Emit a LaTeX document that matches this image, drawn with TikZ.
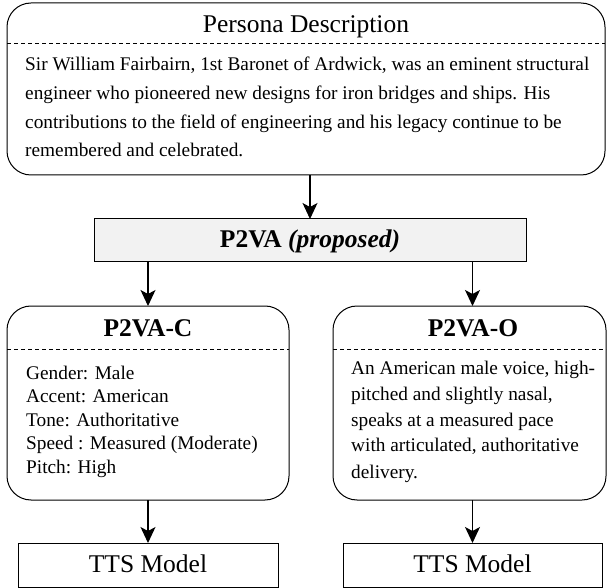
\documentclass[tikz,border=0pt]{standalone}
\usepackage{fontspec}
\setmainfont{Liberation Serif}
\usetikzlibrary{arrows.meta}
\definecolor{boxfill}{HTML}{F2F2F2}
\begin{document}
\begin{tikzpicture}[x=1pt,y=-1pt,
  rbox/.style={draw=black, line width=1pt, rounded corners=24pt, inner sep=0, outer sep=0},
  pbox/.style={draw=black, line width=1pt, inner sep=0, outer sep=0},
  arr/.style={line width=1.1pt, -{Stealth[length=16pt,width=15pt,inset=4pt]}},
  sepline/.style={line width=0.8pt, dash pattern=on 4pt off 3pt},
  body/.style={font=\fontsize{19.3}{23}\selectfont, anchor=base west, inner sep=0},
  head/.style={font=\fontsize{25.5}{30}\selectfont, anchor=base, inner sep=0},
]
\useasboundingbox (0,0) rectangle (608,588);

% boxes
\node[rbox, minimum width=598pt, minimum height=172pt] (persona) at (306,89) {};
\node[pbox, fill=boxfill, minimum width=432pt, minimum height=43pt] (p2va) at (310,240.5) {};
\node[rbox, minimum width=282pt, minimum height=194pt] (cbox) at (148,403) {};
\node[rbox, minimum width=273pt, minimum height=194pt] (obox) at (469.5,403) {};
\node[pbox, minimum width=260pt, minimum height=44pt] (ctts) at (148,565) {};
\node[pbox, minimum width=259pt, minimum height=44pt] (otts) at (472.5,565) {};

% separators
\coordinate (s1) at (0,43);
\coordinate (s2) at (0,349);
\draw[sepline] (persona.west |- s1) -- (persona.east |- s1);
\draw[sepline] (cbox.west |- s2) -- (cbox.east |- s2);
\draw[sepline] (obox.west |- s2) -- (obox.east |- s2);

% persona text
\node[head] (ptitle) at (306,33) {Persona Description};
\node[body] (pl1) at (25,71) {Sir William Fairbairn, 1st Baronet of Ardwick, was an eminent structural};
\node[body] (pl2) at (25,99.7) {engineer who pioneered new designs for iron bridges and ships. His};
\node[body] (pl3) at (25,128.3) {contributions to the field of engineering and his legacy continue to be};
\node[body] (pl4) at (25,157) {remembered and celebrated.};

% P2VA
\node[head, font=\fontsize{25.5}{30}\selectfont\bfseries] (p2vat) at (310,248) {P2VA \textit{(proposed)}};

% C box
\node[head, font=\fontsize{25.5}{30}\selectfont\bfseries] (ctitle) at (148,336) {P2VA-C};
\node[body] (c1) at (26,379) {Gender: Male};
\node[body] (c2) at (26,402.5) {Accent: American};
\node[body] (c3) at (26,426) {Tone: Authoritative};
\node[body] (c4) at (26,449.5) {Speed : Measured (Moderate)};
\node[body] (c5) at (26,473) {Pitch: High};

% O box
\node[head, font=\fontsize{25.5}{30}\selectfont\bfseries] (otitle) at (473,336) {P2VA-O};
\node[body] (o1) at (351,374) {An American male voice, high-};
\node[body] (o2) at (351,400) {pitched and slightly nasal,};
\node[body] (o3) at (351,426) {speaks at a measured pace};
\node[body] (o4) at (351,451) {with articulated, authoritative};
\node[body] (o5) at (351,478) {delivery.};

% TTS
\node[head] (ctt) at (148,572) {TTS Model};
\node[head] (ott) at (472.5,572) {TTS Model};

% arrows
\draw[arr] (p2va.north |- persona.south) -- (p2va.north);
\draw[arr] (p2va.south -| cbox.north) -- (cbox.north);
\draw[arr] (p2va.south -| otts.north) -- (obox.north -| otts.north);
\draw[arr] (cbox.south) -- (ctts.north);
\draw[arr] (obox.south -| otts.north) -- (otts.north);
\end{tikzpicture}
\end{document}
